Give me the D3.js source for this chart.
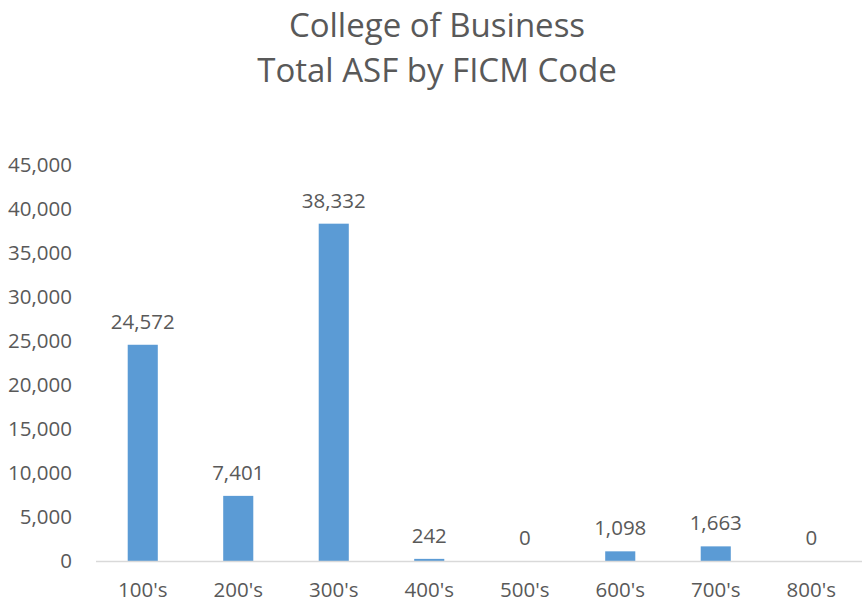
<!DOCTYPE html>
<html>
<head>
<meta charset="utf-8">
<script src="https://cdn.jsdelivr.net/npm/d3@7"></script>
<style>
  body { margin: 0; background: #fff; }
  text { font-family: "Open Sans", sans-serif; fill: #595959; }
</style>
</head>
<body>
<script>
// Chart data
var categories = ["100's", "200's", "300's", "400's", "500's", "600's", "700's", "800's"];
var values = [24572, 7401, 38332, 242, 0, 1098, 1663, 0];
var yTicks = [0, 5000, 10000, 15000, 20000, 25000, 30000, 35000, 40000, 45000];
var titleLines = ["College of Business", "Total ASF by FICM Code"];

var width = 864, height = 600;
var plot = {left: 95, right: 859, top: 165, bottom: 561};

var svg = d3.select("body").append("svg")
    .attr("width", width)
    .attr("height", height);

// Scales
var xScale = d3.scaleBand()
    .domain(categories)
    .range([plot.left, plot.right])
    .paddingInner(0.685)
    .paddingOuter(0.3425);

var yScale = d3.scaleLinear()
    .domain([0, 45000])
    .range([plot.bottom, plot.top]);

var fmt = d3.format(",");

// Title
svg.selectAll(".title")
    .data(titleLines)
    .enter().append("text")
    .attr("class", "title")
    .attr("x", 437)
    .attr("y", function(d, i) { return 37 + i * 45; })
    .attr("text-anchor", "middle")
    .style("font-size", "33px")
    .text(function(d) { return d; });

// Y axis (labels only)
var yAxis = d3.axisLeft(yScale).tickValues(yTicks).tickFormat(fmt).tickSize(0).tickPadding(0);
var gY = svg.append("g")
    .attr("transform", "translate(72,0)")
    .call(yAxis);
gY.select(".domain").remove();
gY.selectAll("text")
    .attr("fill", "#595959")
    .style("font-family", "'Open Sans', sans-serif")
    .style("font-size", "20.5px");

// Bars
svg.selectAll(".bar")
    .data(values)
    .enter().append("rect")
    .attr("class", "bar")
    .attr("x", function(d, i) { return xScale(categories[i]); })
    .attr("width", xScale.bandwidth())
    .attr("y", function(d) { return yScale(d); })
    .attr("height", function(d) { return plot.bottom - yScale(d); })
    .attr("fill", "#5B9BD5");

// X axis
var xAxis = d3.axisBottom(xScale).tickSize(0).tickPadding(21);
var gX = svg.append("g")
    .attr("transform", "translate(0," + plot.bottom + ")")
    .call(xAxis);
gX.select(".domain")
    .attr("d", "M" + (plot.left + 1) + ",0.5H" + 862)
    .attr("stroke", "#D9D9D9")
    .attr("stroke-width", 1.5);
gX.selectAll("text")
    .attr("fill", "#595959")
    .style("font-family", "'Open Sans', sans-serif")
    .style("font-size", "20.5px");

// Data labels
svg.selectAll(".label")
    .data(values)
    .enter().append("text")
    .attr("class", "label")
    .attr("x", function(d, i) { return xScale(categories[i]) + xScale.bandwidth() / 2; })
    .attr("y", function(d) { return yScale(d) - 16; })
    .attr("text-anchor", "middle")
    .style("font-size", "20.5px")
    .text(function(d) { return fmt(d); });
</script>
</body>
</html>
